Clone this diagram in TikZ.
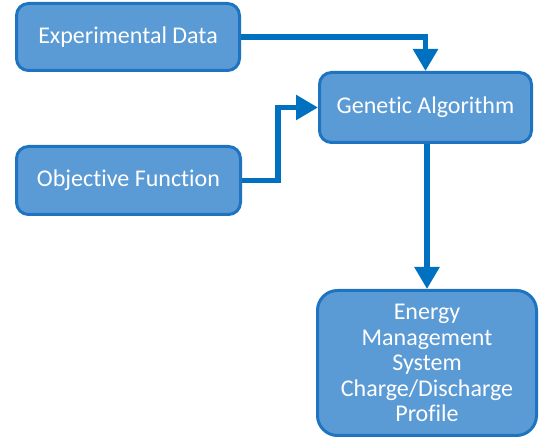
\documentclass[tikz,border=0pt]{standalone}
\usepackage{fontspec}
\setmainfont{Carlito}[Ligatures={NoCommon}]
\usetikzlibrary{arrows.meta, positioning}

\definecolor{boxfill}{HTML}{5B9BD5}
\definecolor{boxline}{HTML}{1F74C2}
\definecolor{flowline}{HTML}{0070C0}

\tikzset{
  block/.style={draw=boxline, fill=boxfill, line width=3pt, rounded corners=12pt,
    text=white, font=\fontsize{24}{25.5}\selectfont, align=center, inner sep=0pt},
  flow/.style={draw=flowline, line width=5.5pt, -{Triangle[width=24pt,length=22pt]}},
}

\begin{document}
\begin{tikzpicture}[x=1pt, y=1pt]

    \useasboundingbox (0,0) rectangle (547,441);

    % boxes
    \node[block, minimum width=223pt, minimum height=67pt] (exp) at (128,404) {Experimental Data};
    \node[block, minimum width=212pt, minimum height=70pt] (ga) at (425.5,333.5) {Genetic Algorithm};
    \node[block, minimum width=224pt, minimum height=68pt] (obj) at (128.5,260.5) {Objective Function};
    \node[block, minimum width=219pt, minimum height=145pt, rounded corners=20pt] (en) at (427,78)
        {Energy\\Management\\System\\Charge/Discharge\\Profile};

    % connectors
    \draw[flow] (exp.east) -| (ga.north);
    \draw[flow] (obj.east) -- ++(36,0) |- (ga.west);
    \draw[flow] (ga.south -| en.north) -- (en.north);

\end{tikzpicture}
\end{document}
